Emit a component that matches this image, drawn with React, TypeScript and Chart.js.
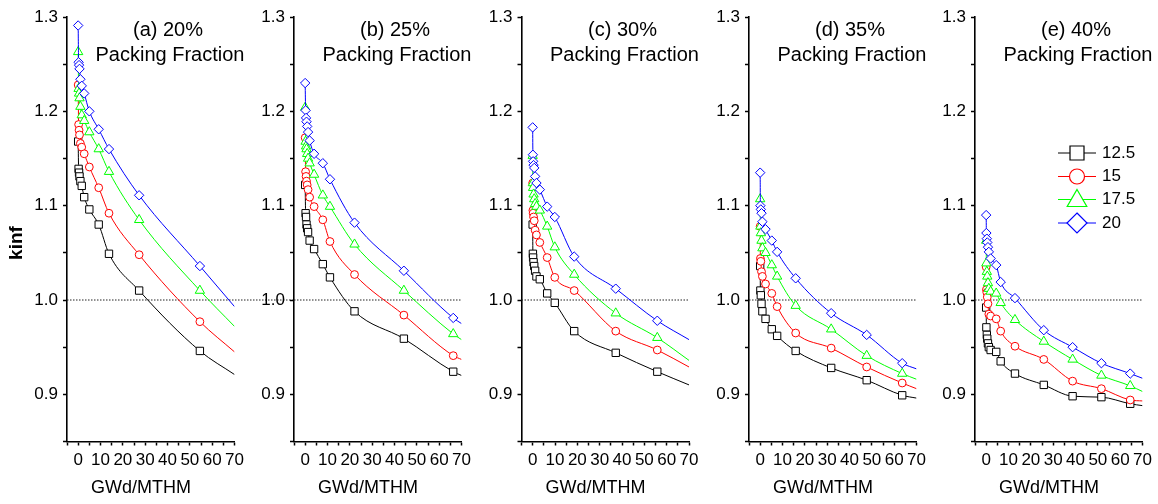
import React, { useEffect, useRef } from 'react';
import { Chart, registerables } from 'chart.js';

Chart.register(...registerables);

const FONT = '"Liberation Sans", Arial, Helvetica, sans-serif';

// ---- data ----
const seriesNames = ['12.5', '15', '17.5', '20'];
const seriesColors = ['#000000', '#ff0000', '#00ff00', '#0000ff'];
const panelTitles = ['(a) 20%', '(b) 25%', '(c) 30%', '(d) 35%', '(e) 40%'];
const xTickLabels = [0, 10, 20, 30, 40, 50, 60, 70];
const yTickLabels = [0.9, 1.0, 1.1, 1.2, 1.3];
const criticalK = 1.0;

// (a) 20%
const burnupA = [0, 0.2, 0.4, 0.6, 1.0, 1.6, 2.7, 5.0, 9.2, 13.8, 27.3, 54.5];
const kA125 = [1.168, 1.139, 1.135, 1.131, 1.126, 1.121, 1.109, 1.096, 1.080, 1.049, 1.010, 0.946];
const kA15 = [1.228, 1.186, 1.180, 1.175, 1.166, 1.162, 1.155, 1.141, 1.119, 1.092, 1.048, 0.977];
const kA175 = [1.263, 1.224, 1.219, 1.214, 1.205, 1.196, 1.190, 1.178, 1.160, 1.136, 1.085, 1.010];
const kA20 = [1.291, 1.252, 1.249, 1.245, 1.234, 1.227, 1.219, 1.200, 1.181, 1.160, 1.111, 1.036];
const fitEndA = [0.921, 0.945, 0.972, 0.993];

// (b) 25%
const burnupB = [0, 0.2, 0.4, 0.6, 0.9, 1.3, 2.0, 4.0, 7.9, 11.1, 22.1, 44.2, 66.3];
const kB125 = [1.122, 1.092, 1.088, 1.080, 1.076, 1.072, 1.063, 1.054, 1.038, 1.024, 0.988, 0.959, 0.924];
const kB15 = [1.172, 1.136, 1.131, 1.126, 1.122, 1.117, 1.109, 1.099, 1.085, 1.062, 1.027, 0.984, 0.941];
const kB175 = [1.204, 1.168, 1.163, 1.160, 1.155, 1.150, 1.145, 1.133, 1.111, 1.099, 1.059, 1.010, 0.964];
const kB20 = [1.230, 1.201, 1.193, 1.189, 1.184, 1.178, 1.169, 1.155, 1.145, 1.128, 1.082, 1.031, 0.981];
const fitEndB = [0.920, 0.937, 0.958, 0.975];

// (c) 30%
const burnupC = [0, 0.1, 0.2, 0.4, 0.7, 1.1, 1.7, 3.2, 6.5, 9.9, 18.6, 37.2, 55.8];
const kC125 = [1.080, 1.049, 1.045, 1.040, 1.036, 1.031, 1.025, 1.022, 1.007, 0.997, 0.967, 0.944, 0.924];
const kC15 = [1.124, 1.095, 1.092, 1.088, 1.084, 1.074, 1.069, 1.061, 1.045, 1.024, 1.010, 0.967, 0.947];
const kC175 = [1.153, 1.124, 1.119, 1.112, 1.107, 1.102, 1.099, 1.095, 1.078, 1.056, 1.027, 0.986, 0.960];
const kC20 = [1.183, 1.154, 1.147, 1.143, 1.140, 1.131, 1.124, 1.117, 1.099, 1.088, 1.046, 1.012, 0.978];
const fitEndC = [0.910, 0.929, 0.936, 0.958];

// (d) 35%
const burnupD = [0, 0.1, 0.3, 0.6, 1.0, 2.4, 5.2, 7.6, 15.9, 31.8, 47.7, 63.6];
const kD125 = [1.036, 1.010, 1.005, 0.996, 0.988, 0.980, 0.969, 0.962, 0.946, 0.928, 0.915, 0.899];
const kD15 = [1.078, 1.044, 1.041, 1.030, 1.025, 1.017, 1.007, 0.993, 0.965, 0.949, 0.929, 0.912];
const kD175 = [1.107, 1.078, 1.071, 1.063, 1.055, 1.050, 1.037, 1.025, 0.994, 0.969, 0.941, 0.922];
const kD20 = [1.135, 1.100, 1.096, 1.092, 1.083, 1.075, 1.063, 1.051, 1.023, 0.986, 0.963, 0.933];
const fitEndD = [0.896, 0.906, 0.916, 0.927];

// (e) 40%
const burnupE = [0, 0.1, 0.3, 0.5, 0.8, 1.2, 2.0, 4.5, 6.5, 12.9, 25.8, 38.7, 51.6, 64.5];
const kE125 = [0.992, 0.971, 0.963, 0.959, 0.954, 0.950, 0.947, 0.945, 0.935, 0.922, 0.910, 0.898, 0.897, 0.890];
const kE15 = [1.035, 1.011, 1.008, 1.003, 0.996, 0.985, 0.983, 0.980, 0.967, 0.951, 0.937, 0.914, 0.906, 0.894];
const kE175 = [1.063, 1.039, 1.030, 1.025, 1.018, 1.012, 1.009, 1.007, 0.997, 0.979, 0.956, 0.937, 0.920, 0.909];
const kE20 = [1.090, 1.071, 1.065, 1.061, 1.056, 1.051, 1.044, 1.037, 1.019, 1.002, 0.968, 0.950, 0.933, 0.922];
const fitEndE = [0.888, 0.893, 0.903, 0.917];

const panels = [
  { title: panelTitles[0], x: burnupA, k: [kA125, kA15, kA175, kA20], end: fitEndA, refEnd: 96 },
  { title: panelTitles[1], x: burnupB, k: [kB125, kB15, kB175, kB20], end: fitEndB, refEnd: 70 },
  { title: panelTitles[2], x: burnupC, k: [kC125, kC15, kC175, kC20], end: fitEndC, refEnd: 70 },
  { title: panelTitles[3], x: burnupD, k: [kD125, kD15, kD175, kD20], end: fitEndD, refEnd: 70 },
  { title: panelTitles[4], x: burnupE, k: [kE125, kE15, kE175, kE20], end: fitEndE, refEnd: 70 },
];

// ---- styling / layout ----
const CW = 1158;
const CH = 504;
const PLOT_LEFTS = [67, 294, 521.5, 749, 975];
const PLOT_W = 167.5;
const PLOT_TOP = 17;
const PLOT_BOTTOM = 441.5;
const Y_AXIS_W = 50;
const X_AXIS_H = 30;
const pointStyles = ['rect', 'circle', 'triangle', 'rectRot'];
const pointRadii = [5.2, 3.9, 5.4, 4.7];

function drawLegendMarker(ctx, style, x, y, color) {
  ctx.beginPath();
  if (style === 'rect') {
    ctx.rect(x - 7, y - 7, 14, 14);
  } else if (style === 'circle') {
    ctx.arc(x, y, 7.5, 0, Math.PI * 2);
  } else if (style === 'triangle') {
    ctx.moveTo(x, y - 10);
    ctx.lineTo(x + 9.8, y + 7);
    ctx.lineTo(x - 9.8, y + 7);
    ctx.closePath();
  } else {
    ctx.moveTo(x, y - 10);
    ctx.lineTo(x + 10, y);
    ctx.lineTo(x, y + 10);
    ctx.lineTo(x - 10, y);
    ctx.closePath();
  }
  ctx.fillStyle = '#ffffff';
  ctx.fill();
  ctx.strokeStyle = color;
  ctx.lineWidth = 1.2;
  ctx.stroke();
}

const panelTextPlugin = {
  id: 'panelText',
  afterDraw(chart, _args, opts) {
    const { ctx, chartArea } = chart;
    ctx.save();
    ctx.fillStyle = '#000';
    ctx.textAlign = 'center';
    ctx.textBaseline = 'middle';
    ctx.font = `20px ${FONT}`;
    ctx.fillText(opts.title, chartArea.left + 101, chartArea.top + 13);
    ctx.fillText('Packing Fraction', chartArea.left + 103, chartArea.top + 38);
    ctx.font = `18px ${FONT}`;
    ctx.fillText('GWd/MTHM', chartArea.left + 74, chartArea.bottom + 46.5);
    if (opts.showYTitle) {
      ctx.save();
      ctx.translate(17, 243);
      ctx.rotate(-Math.PI / 2);
      ctx.font = `bold 19px ${FONT}`;
      ctx.fillText('kinf', 0, 0);
      ctx.restore();
    }
    if (opts.showLegend) {
      const rows = [136, 159.5, 182.5, 206];
      seriesNames.forEach((name, i) => {
        const y = chartArea.top + rows[i];
        ctx.strokeStyle = seriesColors[i];
        ctx.lineWidth = 1;
        ctx.beginPath();
        ctx.moveTo(chartArea.left + 83, y);
        ctx.lineTo(chartArea.left + 121, y);
        ctx.stroke();
        drawLegendMarker(ctx, pointStyles[i], chartArea.left + 102, y, seriesColors[i]);
        ctx.fillStyle = '#000';
        ctx.textAlign = 'left';
        ctx.font = `17px ${FONT}`;
        ctx.fillText(name, chartArea.left + 127, y);
      });
    }
    ctx.restore();
  },
};

function isMajor(v, step) {
  const r = v / step;
  return Math.abs(r - Math.round(r)) < 1e-6;
}

function buildConfig(p, idx) {
  const datasets = p.k.map((vals, s) => {
    const data = p.x.map((x, i) => ({ x, y: vals[i] }));
    data.push({ x: 70, y: p.end[s] });
    const last = data.length - 1;
    return {
      label: seriesNames[s],
      data,
      order: 10 - s,
      borderColor: seriesColors[s],
      backgroundColor: '#ffffff',
      borderWidth: 1,
      pointStyle: pointStyles[s],
      pointRadius: (c) => (c.dataIndex === last ? 0 : pointRadii[s]),
      pointBorderWidth: 1,
      pointBorderColor: seriesColors[s],
      pointBackgroundColor: '#ffffff',
      cubicInterpolationMode: 'monotone',
      fill: false,
    };
  });
  datasets.push({
    label: 'k=1',
    data: [
      { x: -5, y: criticalK },
      { x: p.refEnd, y: criticalK },
    ],
    order: 20,
    borderColor: '#222',
    borderWidth: 1,
    borderDash: [1.5, 1.5],
    pointRadius: 0,
    fill: false,
    clip: false,
  });

  const left = PLOT_LEFTS[idx];
  return {
    type: 'line',
    data: { datasets },
    options: {
      animation: false,
      responsive: false,
      maintainAspectRatio: false,
      events: [],
      layout: {
        padding: {
          left: left - Y_AXIS_W,
          right: CW - (left + PLOT_W),
          top: PLOT_TOP,
          bottom: CH - PLOT_BOTTOM - X_AXIS_H,
        },
      },
      plugins: {
        legend: { display: false },
        tooltip: { enabled: false },
        title: { display: false },
        panelText: { title: p.title, showYTitle: idx === 0, showLegend: idx === 4 },
      },
      scales: {
        x: {
          type: 'linear',
          min: -5,
          max: 70,
          afterFit: (scale) => {
            scale.height = X_AXIS_H;
          },
          ticks: {
            stepSize: 5,
            autoSkip: false,
            maxRotation: 0,
            minRotation: 0,
            padding: 5,
            color: '#000',
            font: { family: FONT, size: 17 },
            callback: (v) => (isMajor(v, 10) && xTickLabels.includes(Math.round(v)) ? String(Math.round(v)) : ''),
          },
          grid: {
            display: true,
            drawOnChartArea: false,
            drawTicks: true,
            tickLength: 4,
            tickColor: '#000',
            tickWidth: 1.5,
          },
          border: { display: true, color: '#000', width: 1.6 },
        },
        y: {
          type: 'linear',
          min: 0.85,
          max: 1.3,
          afterFit: (scale) => {
            scale.width = Y_AXIS_W;
          },
          ticks: {
            stepSize: 0.05,
            autoSkip: false,
            padding: 5,
            color: '#000',
            font: { family: FONT, size: 17 },
            callback: (v) => {
              const r = Math.round(v * 10) / 10;
              return isMajor(v, 0.1) && yTickLabels.some((t) => Math.abs(t - r) < 1e-6) ? r.toFixed(1) : '';
            },
          },
          grid: {
            display: true,
            drawOnChartArea: false,
            drawTicks: true,
            tickLength: 4,
            tickColor: '#000',
            tickWidth: 1.5,
          },
          border: { display: true, color: '#000', width: 1.6 },
        },
      },
    },
    plugins: [panelTextPlugin],
  };
}

export default function App() {
  const refs = useRef([]);

  useEffect(() => {
    const charts = panels.map((p, i) => {
      const canvas = refs.current[i];
      return new Chart(canvas, buildConfig(p, i));
    });
    return () => charts.forEach((c) => c.destroy());
  }, []);

  return (
    <div
      style={{
        position: 'fixed',
        left: 0,
        top: 0,
        width: CW,
        height: CH,
        background: '#ffffff',
        overflow: 'hidden',
      }}
    >
      {panels.map((p, i) => (
        <canvas
          key={i}
          ref={(el) => {
            refs.current[i] = el;
          }}
          width={CW}
          height={CH}
          style={{ position: 'absolute', left: 0, top: 0, width: CW, height: CH }}
        />
      ))}
    </div>
  );
}
